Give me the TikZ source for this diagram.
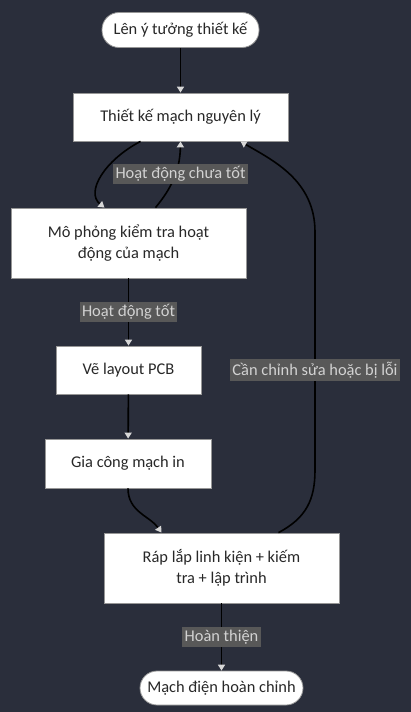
\documentclass[tikz,border=0pt]{standalone}
\usepackage{fontspec}
\setmainfont{Carlito}
\usetikzlibrary{arrows.meta, positioning, calc}
\definecolor{bgdark}{RGB}{42,46,59}
\definecolor{labelbg}{RGB}{88,88,88}
\definecolor{labeltext}{RGB}{210,210,210}
\definecolor{tipgray}{RGB}{215,215,215}
\definecolor{boxline}{RGB}{150,150,150}
\definecolor{boxtext}{RGB}{40,40,40}

\begin{document}
\begin{tikzpicture}[x=1pt, y=-1pt,
  box/.style={draw=boxline, line width=0.8pt, fill=white, text=boxtext,
    font=\fontsize{16.4}{21}\selectfont, align=center, inner sep=0pt},
  pill/.style={box, rounded corners=17pt},
  lbl/.style={fill=labelbg, text=labeltext, font=\fontsize{16.4}{21}\selectfont,
    inner sep=2.5pt},
  flow/.style={line width=1.6pt, black,
    -{Triangle[width=7pt, length=6pt, color=tipgray]}}]
  % Background
  \fill[bgdark] (0,0) rectangle (411,712);
  \useasboundingbox (0,0) rectangle (411,712);

  % Steps
  \node[pill, minimum width=157pt, minimum height=35pt] (idea) at (180.5,30) {Lên ý tưởng thiết kế};
  \node[box, minimum width=215pt, minimum height=48pt] (design) at (180.5,117) {Thiết kế mạch nguyên lý};
  \node[box, minimum width=235pt, minimum height=70pt] (sim) at (128.5,243) {Mô phỏng kiểm tra hoạt\\động của mạch};
  \node[box, minimum width=145pt, minimum height=48pt] (pcb) at (128.5,370) {Vẽ layout PCB};
  \node[box, minimum width=166pt, minimum height=49pt] (fab) at (128,463.5) {Gia công mạch in};
  \node[box, minimum width=235pt, minimum height=70pt] (asm) at (221.5,568) {Ráp lắp linh kiện + kiếm\\tra + lập trình};
  \node[pill, minimum width=163pt, minimum height=34pt] (done) at (221.5,688) {Mạch điện hoàn chỉnh};

  % Main flow
  \draw[flow] (idea) -- (design);
  \draw[flow] ([xshift=-40pt]design.south) .. controls (105,160) and (85,192) .. ([xshift=-24pt]sim.north);
  \draw[flow] ([xshift=27pt]sim.north) .. controls (170,190) and (180,172) .. (design.south);
  \node[lbl] (lbad) at (180.5,174) {Hoạt động chưa tốt};
  \draw[flow] (sim) -- node[lbl, pos=0.5] (lgood) {Hoạt động tốt} (pcb);
  \draw[flow] (pcb) -- (fab);
  \draw[flow] (fab.south) .. controls (128,512) and (150,516) .. ([xshift=-60pt]asm.north);

  % Loop back
  \draw[flow] ([xshift=57pt]asm.north) .. controls (306,518) and (315,500) .. (315,470)
    -- node[lbl, pos=0.42] (lfix) {Cần chỉnh sửa hoặc bị lỗi} (315,232)
    .. controls (315,180) and (272,160) .. ([xshift=60pt]design.south);
  \draw[flow] (asm) -- node[lbl, pos=0.5] (lfinish) {Hoàn thiện} (done);
\end{tikzpicture}
\end{document}
